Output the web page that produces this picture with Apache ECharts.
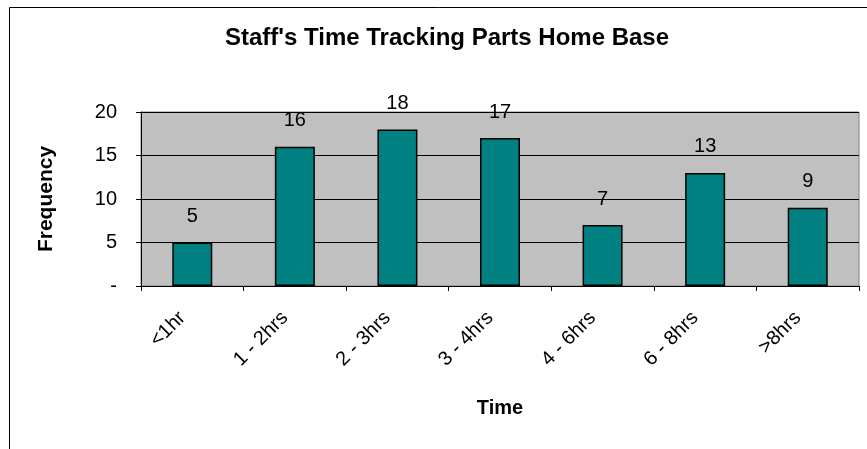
<!DOCTYPE html>
<html><head><meta charset="utf-8">
<script src="https://cdn.jsdelivr.net/npm/echarts@6/dist/echarts.min.js"></script>
<style>html,body{margin:0;padding:0;background:#fff}#c{width:867px;height:449px}</style>
</head><body><div id="c"></div>
<script>
const categories = ['<1hr', '1 - 2hrs', '2 - 3hrs', '3 - 4hrs', '4 - 6hrs', '6 - 8hrs', '>8hrs'];
const frequency = [5, 16, 18, 17, 7, 13, 9];
const yTicks = [0, 5, 10, 15, 20];

const font = 'Arial, "Liberation Sans", sans-serif';
const chart = echarts.init(document.getElementById('c'), null, {renderer: 'canvas'});
chart.setOption({
  animation: false,
  graphic: [{
    type: 'rect', silent: true, z: -1,
    shape: {x: 9.5, y: 7.5, width: 1000, height: 1000},
    style: {fill: 'none', stroke: '#000', lineWidth: 1}
  }],
  title: {
    text: "Staff's Time Tracking Parts Home Base",
    left: 442, top: 21, textAlign: 'center',
    textStyle: {fontFamily: font, fontSize: 24, fontWeight: 'bold', color: '#000'}
  },
  grid: {
    left: 141, top: 112, right: 8, height: 174,
    show: true, backgroundColor: '#c0c0c0', borderColor: '#808080', borderWidth: 1
  },
  xAxis: {
    type: 'category', data: categories,
    name: 'Time', nameLocation: 'middle', nameGap: 112,
    nameTextStyle: {fontFamily: font, fontSize: 20, fontWeight: 'bold', color: '#000'},
    axisLine: {lineStyle: {color: '#000', width: 1}},
    axisTick: {show: true, length: 5, lineStyle: {color: '#000'}},
    axisLabel: {rotate: 45, margin: 19, padding: [0, 14, 0, 0], fontFamily: font, fontSize: 20, color: '#000'}
  },
  yAxis: {
    type: 'value', min: 0, max: 20, interval: 5,
    name: 'Frequency', nameLocation: 'middle', nameGap: 84, nameRotate: 90,
    nameTextStyle: {fontFamily: font, fontSize: 21, fontWeight: 'bold', color: '#000'},
    axisLine: {show: true, lineStyle: {color: '#000', width: 1}},
    axisTick: {show: true, length: 5, lineStyle: {color: '#000'}},
    splitLine: {show: true, lineStyle: {color: '#000', width: 1}},
    axisLabel: {margin: 24, fontFamily: font, fontSize: 20, color: '#000',
      formatter: v => yTicks.includes(v) ? (v === 0 ? '-' : String(v)) : ''}
  },
  series: [{
    type: 'bar', data: frequency, barWidth: '39%',
    itemStyle: {color: '#008080', borderColor: '#000', borderWidth: 1.5},
    label: {show: true, position: 'top', distance: 16, fontFamily: font, fontSize: 20, color: '#000'}
  }]
});
</script></body></html>
